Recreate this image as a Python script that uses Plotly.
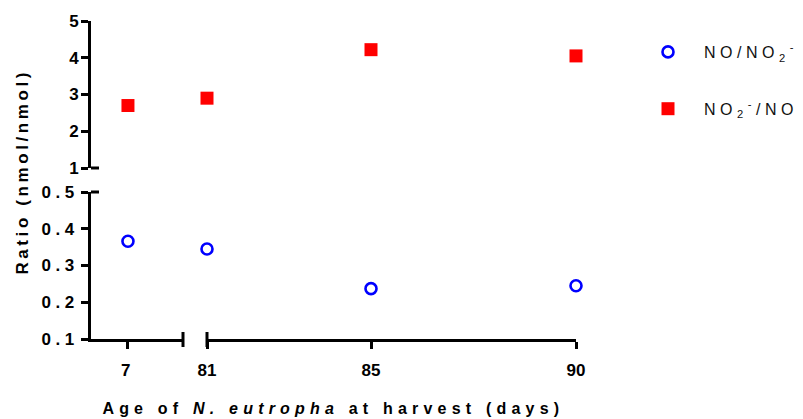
import plotly.graph_objects as go

# ---- data ----
days = [7, 81, 85, 90]
no_over_no2 = [0.366, 0.345, 0.237, 0.245]
no2_over_no = [2.70, 2.90, 4.22, 4.05]
series_names = ["NO/NO<sub>2</sub><sup>-</sup>", "NO<sub>2</sub><sup>-</sup>/NO"]
x_ticks_a = [7]
x_ticks_b = [81, 85, 90]
y_low_ticks = [0.1, 0.2, 0.3, 0.4, 0.5]
y_up_ticks = [1, 2, 3, 4, 5]

# ---- geometry (pixels) ----
W, H = 803, 419
L, R, T, B = 91, 576, 21, 339
PW, PH = R - L, B - T
def px_x(p):
    return (p - L) / PW
def px_y(p):
    return (B - p) / PH

xa_dom = [0, px_x(183)]
xb_dom = [px_x(207), 1]
ylo_dom = [0, px_y(192)]
yup_dom = [px_y(168), 1]

FONT = "Liberation Sans, Arial, sans-serif"
tickfont = dict(family=FONT, size=17, color="black", weight="bold")

fig = go.Figure()

seg_a = [i for i, d in enumerate(days) if d < 50]
seg_b = [i for i, d in enumerate(days) if d >= 50]

circ = dict(symbol="circle-open", size=11, color="#0000ff", line=dict(color="#0000ff", width=2.6))
sq = dict(symbol="square", size=13, color="#ff0000", line=dict(width=0))

for idx, xax, show in [(seg_a, "x", True), (seg_b, "x2", False)]:
    fig.add_trace(go.Scatter(
        x=[days[i] for i in idx], y=[no_over_no2[i] for i in idx],
        xaxis=xax, yaxis="y", mode="markers", marker=circ,
        name=series_names[0], legendgroup="a", showlegend=show, cliponaxis=False))
for idx, xax, show in [(seg_a, "x", True), (seg_b, "x2", False)]:
    fig.add_trace(go.Scatter(
        x=[days[i] for i in idx], y=[no2_over_no[i] for i in idx],
        xaxis=xax, yaxis="y2", mode="markers", marker=sq,
        name=series_names[1], legendgroup="b", showlegend=show, cliponaxis=False))

axis_common = dict(showline=True, linecolor="black", linewidth=3, ticks="outside",
                   ticklen=7, tickwidth=3, tickcolor="black", showgrid=False,
                   zeroline=False, tickfont=tickfont)

fig.update_layout(
    width=W, height=H,
    margin=dict(l=L, r=W - R, t=T, b=H - B, pad=0),
    paper_bgcolor="white", plot_bgcolor="white",
    xaxis=dict(domain=xa_dom, range=[6.1, 8.34], anchor="y", tickmode="array",
               tickvals=x_ticks_a, ticklabelstandoff=7, **axis_common),
    xaxis2=dict(domain=xb_dom, range=[81, 90], anchor="y", tickmode="array",
                tickvals=x_ticks_b, ticklabelstandoff=7, **axis_common),
    yaxis=dict(domain=ylo_dom, range=[0.1, 0.5], anchor="x", tickmode="array",
               tickvals=y_low_ticks, tickformat=".1f", ticklabelstandoff=-1, **axis_common),
    yaxis2=dict(domain=yup_dom, range=[1, 5], anchor="x", tickmode="array",
                tickvals=y_up_ticks, ticklabelstandoff=-1, **axis_common),
    legend=dict(x=px_x(632), y=px_y(35), xanchor="left", yanchor="top",
                xref="paper", yref="paper", itemwidth=62, tracegroupgap=33,
                font=dict(family=FONT, size=16, color="#111111"),
                bgcolor="rgba(0,0,0,0)"),
    showlegend=True,
)

# axis break caps
cap = dict(type="line", xref="paper", yref="paper", line=dict(color="black", width=3))
for xv in [xa_dom[1], xb_dom[0]]:
    fig.add_shape(x0=xv, x1=xv, y0=px_y(347), y1=px_y(332), **cap)
for yv in [ylo_dom[1], yup_dom[0]]:
    fig.add_shape(x0=0, x1=px_x(99), y0=yv, y1=yv, **cap)

titlefont = dict(family=FONT, size=16, color="black", weight="bold")
fig.add_annotation(text="Ratio (nmol/nmol)", xref="paper", yref="paper",
                   x=px_x(22), y=px_y(172), textangle=-90, showarrow=False,
                   xanchor="center", yanchor="middle", name="ytitle",
                   font=dict(family=FONT, size=17, color="black", weight="bold"))
fig.add_annotation(text="Age of <i>N. eutropha</i> at harvest (days)", xref="paper", yref="paper",
                   x=0.5, y=px_y(408), showarrow=False, name="xtitle",
                   xanchor="center", yanchor="middle", font=titlefont)

post = """
var gd = document.getElementById('{plot_id}');
gd.querySelectorAll('.xtick text, .ytick text, .legendtext').forEach(function(t){
  t.style.letterSpacing = '4.5px';
});
var ann = gd.querySelectorAll('.annotation-text');
ann.forEach(function(t, i){
  t.style.letterSpacing = (i === 0) ? '3.6px' : '5.2px';
});
gd.querySelectorAll('.legend .scrollbox, .legend').forEach(function(e){
  e.removeAttribute('clip-path');
});
"""
fig.write_html("out.html", post_script=post)
